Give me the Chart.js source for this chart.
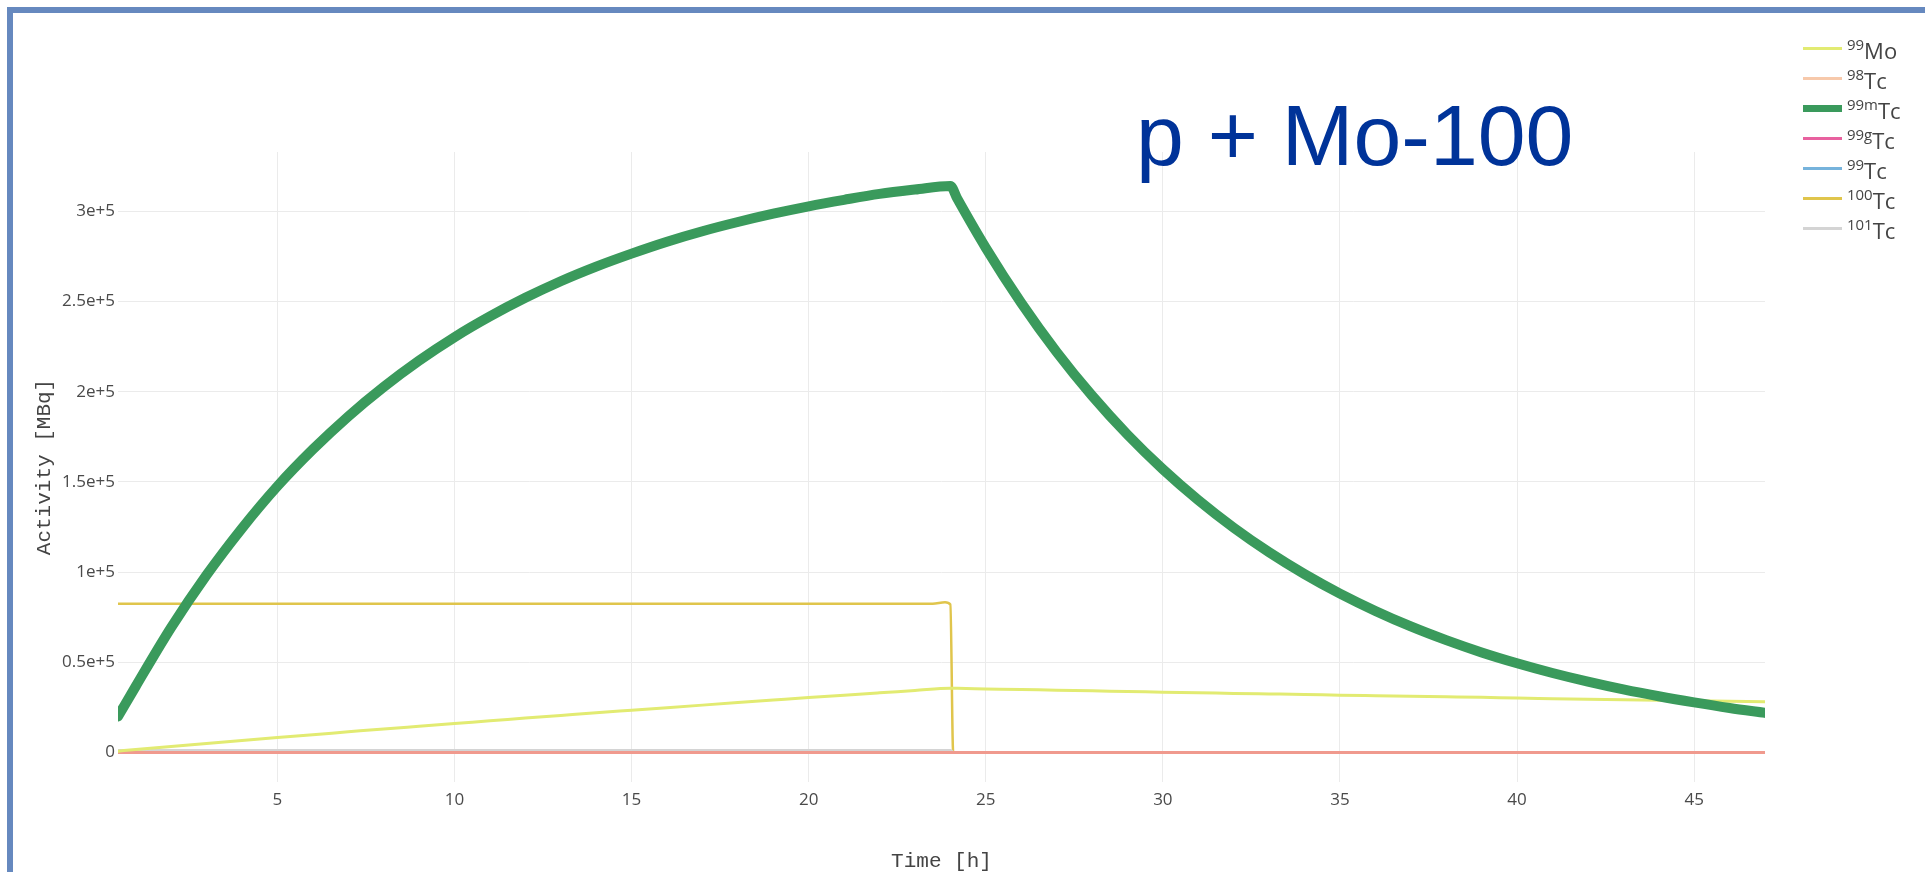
<!DOCTYPE html>
<html>
<head>
<meta charset="utf-8">
<script src="https://cdn.jsdelivr.net/npm/chart.js@4.4.1/dist/chart.umd.min.js"></script>
<style>
  html, body { margin: 0; padding: 0; background: #fff; overflow: hidden; }
  #wrap { position: relative; width: 1925px; height: 872px; }
  #frame {
    position: absolute; left: 7px; top: 7px; width: 2000px; height: 1000px;
    border-left: 6px solid #6689bf; border-top: 6px solid #6689bf; box-sizing: border-box;
  }
  #chartCanvas { position: absolute; left: 0; top: 0; }
  #title {
    position: absolute; left: 1136px; top: 92px; line-height: 1;
    font-family: "Liberation Sans", Arial, sans-serif; font-size: 86px; color: #003399;
    white-space: nowrap;
  }
  #legend { position: absolute; left: 1803px; top: 33px; }
  .row { display: flex; align-items: center; height: 30px; }
  .swatch { width: 39px; margin-right: 5px; }
  .name { font-family: "Open Sans", sans-serif; font-size: 22px; color: #444; line-height: 1; position: relative; top: 2px; }
  .name sup { font-size: 68%; vertical-align: 0.6em; line-height: 0; }
</style>
</head>
<body>
<div id="wrap">
  <div id="frame"></div>
  <canvas id="chartCanvas" width="1925" height="872"></canvas>
  <div id="title">p + Mo-100</div>
  <div id="legend"></div>
</div>
<script>
// time axis for the long-lived series [h]
const hours = [0.5, 1, 2, 3, 4, 5, 6, 7, 8, 9, 10, 11, 12, 13, 14, 15, 16, 17, 18, 19, 20, 21, 22, 23, 24, 24.2,
  25, 26, 27, 28, 29, 30, 31, 32, 33, 34, 35, 36, 37, 38, 39, 40, 41, 42, 43, 44, 45, 46, 47];

// activity [MBq]
const mo99 = [800, 1700, 3400, 5000, 6700, 8300, 9900, 11500, 13100, 14600, 16100, 17600, 19100, 20600, 22100, 23500,
  24900, 26300, 27700, 29100, 30500, 31800, 33100, 34400, 35700, 35600,
  35300, 34900, 34600, 34200, 33900, 33500, 33200, 32800, 32500, 32200, 31800, 31500, 31200, 30900, 30600, 30200,
  29900, 29600, 29300, 29000, 28700, 28400, 28100];

const tc99m = [20000, 36700, 69300, 98400, 124300, 147600, 168000, 186300, 202600, 217200, 230200, 241700, 252000,
  261200, 269300, 276500, 283100, 288900, 294000, 298600, 302700, 306300, 309600, 312000, 314000, 306800,
  279700, 249200, 222000, 197800, 176200, 157000, 139900, 124600, 111000, 98900, 88100, 78500, 69900, 62300,
  55500, 49500, 44100, 39300, 35000, 31200, 27800, 24700, 22000];

// short-lived / negligible series
const tc100Hours = [0.5, 23.5, 23.85, 24.0, 24.08, 47];
const tc100 = [82500, 82500, 83300, 82000, 0, 0];

const lowHours = [0.5, 24.0, 24.1, 47];
const tc98 = [0, 0, 0, 0];
const tc99g = [0, 0, 0, 0];
const tc99 = [0, 0, 0, 0];
const tc101 = [1200, 1200, 0, 0];

const massNumbers = ['99', '98', '99m', '99g', '99', '100', '101'];
const elements = ['Mo', 'Tc', 'Tc', 'Tc', 'Tc', 'Tc', 'Tc'];
const colors = ['#e2eb72', 'rgba(244,178,135,0.7)', '#3a9a5c', '#e8619f', '#76b3dc', '#e0c54c', '#d4d4d4'];
const widths = [3, 3, 10, 3, 3, 2.5, 3];
const legendWidths = [3, 3, 7, 3, 3, 3, 3];

const xTicks = [5, 10, 15, 20, 25, 30, 35, 40, 45];
const xTickLabels = ['5', '10', '15', '20', '25', '30', '35', '40', '45'];
const yTicks = [0, 50000, 100000, 150000, 200000, 250000, 300000];
const yTickLabels = ['0', '0.5e+5', '1e+5', '1.5e+5', '2e+5', '2.5e+5', '3e+5'];

function points(xs, ys) {
  return xs.map((x, i) => ({ x: x, y: ys[i] }));
}

const seriesData = [
  points(hours, mo99),
  points(lowHours, tc98),
  points(hours, tc99m),
  points(lowHours, tc99g),
  points(lowHours, tc99),
  points(tc100Hours, tc100),
  points(lowHours, tc101)
];
// lower order is drawn on top
const drawOrder = [1, 2, 0, 3, 5, 6, 4];

const datasets = seriesData.map((d, i) => ({
  label: massNumbers[i] + elements[i],
  data: d,
  borderColor: colors[i],
  backgroundColor: colors[i],
  borderWidth: widths[i],
  pointRadius: 0,
  fill: false,
  order: drawOrder[i]
}));

const tickFont = { family: '"Open Sans", sans-serif', size: 17 };
const titleFont = { family: '"Liberation Mono", "Courier New", monospace', size: 21, lineHeight: 1 };

new Chart(document.getElementById('chartCanvas').getContext('2d'), {
  type: 'line',
  data: { datasets: datasets },
  options: {
    responsive: false,
    animation: false,
    layout: { padding: { left: 0, right: 160, top: 152, bottom: 0 } },
    plugins: { legend: { display: false }, tooltip: { enabled: false } },
    elements: {
      line: { cubicInterpolationMode: 'monotone', borderCapStyle: 'round', borderJoinStyle: 'round' }
    },
    scales: {
      x: {
        type: 'linear',
        min: 0.5,
        max: 47,
        afterBuildTicks: s => { s.ticks = xTicks.map(v => ({ value: v })); },
        afterFit: s => { s.height = 90; },
        border: { display: false },
        grid: { color: '#ebebeb', drawTicks: false },
        ticks: {
          padding: 8, font: tickFont, color: '#4a4a4a', maxRotation: 0,
          callback: v => xTickLabels[xTicks.indexOf(v)]
        },
        title: { display: true, text: 'Time [h]', font: titleFont, color: '#444', padding: { top: 0, bottom: 0 } }
      },
      y: {
        min: -16300,
        max: 332800,
        afterBuildTicks: s => { s.ticks = yTicks.map(v => ({ value: v })); },
        afterFit: s => { s.width = 118; },
        border: { display: false },
        grid: { color: '#ebebeb', drawTicks: false },
        ticks: {
          padding: 3, font: tickFont, color: '#4a4a4a',
          callback: v => yTickLabels[yTicks.indexOf(v)]
        },
        title: { display: true, text: 'Activity [MBq]', font: titleFont, color: '#444', padding: { top: 34, bottom: 0 } }
      }
    }
  }
});

// legend with superscript mass numbers
const legendBox = document.getElementById('legend');
massNumbers.forEach((m, i) => {
  const row = document.createElement('div');
  row.className = 'row';
  const sw = document.createElement('div');
  sw.className = 'swatch';
  sw.style.height = legendWidths[i] + 'px';
  sw.style.background = colors[i];
  const name = document.createElement('span');
  name.className = 'name';
  name.innerHTML = '<sup>' + m + '</sup>' + elements[i];
  row.appendChild(sw);
  row.appendChild(name);
  legendBox.appendChild(row);
});
</script>
</body>
</html>
